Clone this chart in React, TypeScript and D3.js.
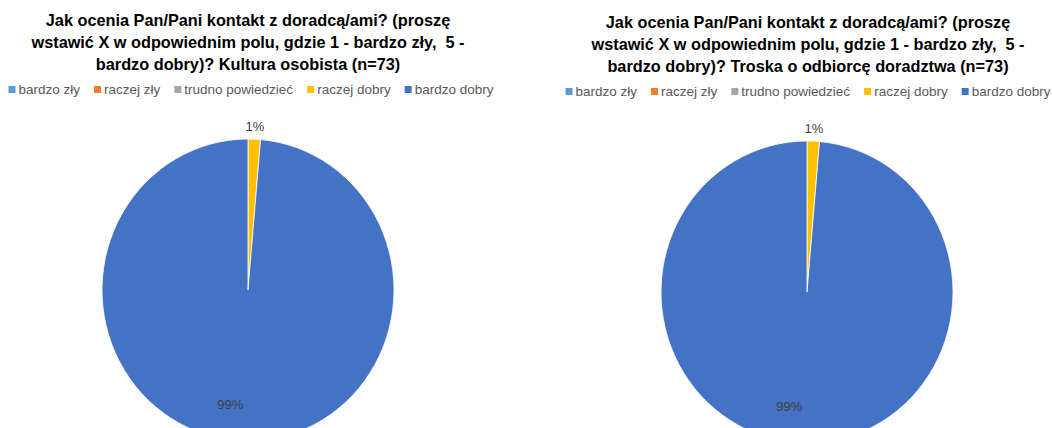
import React, { useEffect, useRef } from "react";
import * as d3 from "d3";

const categories = ["bardzo zły", "raczej zły", "trudno powiedzieć", "raczej dobry", "bardzo dobry"];
const colors = ["#5B9BD5", "#ED7D31", "#A5A5A5", "#FFC000", "#4472C4"];
const valuesKultura = [0, 0, 0, 1, 72];
const valuesTroska = [0, 0, 0, 1, 72];
const titleKultura = [
  "Jak ocenia Pan/Pani kontakt z doradcą/ami? (proszę",
  "wstawić X w odpowiednim polu, gdzie 1 - bardzo zły,  5 -",
  "bardzo dobry)? Kultura osobista (n=73)",
];
const titleTroska = [
  "Jak ocenia Pan/Pani kontakt z doradcą/ami? (proszę",
  "wstawić X w odpowiednim polu, gdzie 1 - bardzo zły,  5 -",
  "bardzo dobry)? Troska o odbiorcę doradztwa (n=73)",
];

const W = 1052;
const H = 428;
const FONT = "'Liberation Sans', Arial, sans-serif";

export default function App() {
  const ref = useRef<SVGSVGElement>(null);
  useEffect(() => {
    const svg = d3.select(ref.current);
    svg.selectAll("*").remove();
    const panels = [
      { title: titleKultura, values: valuesKultura, cx: 248, titleY: 26, legendY: 94, legendCx: 251, pieCx: 248, pieCy: 290 },
      { title: titleTroska, values: valuesTroska, cx: 808, titleY: 28, legendY: 96, legendCx: 808, pieCx: 807, pieCy: 292 },
    ];
    const r = 146;
    const sy = 151 / 146;
    panels.forEach((p) => {
      const g = svg.append("g");
      // title
      const t = g.append("text")
        .attr("text-anchor", "middle")
        .attr("font-family", FONT)
        .attr("font-weight", "bold")
        .attr("font-size", 16.3)
        .attr("fill", "#000")
        .style("white-space", "pre");
      p.title.forEach((line, i) => {
        t.append("tspan").attr("x", p.cx).attr("y", p.titleY + i * 22).text(line);
      });
      // legend
      const lg = g.append("g");
      let x = 0;
      categories.forEach((c, i) => {
        lg.append("rect").attr("x", x).attr("y", p.legendY - 8).attr("width", 7).attr("height", 7).attr("fill", colors[i]);
        const tx = lg.append("text")
          .attr("x", x + 10)
          .attr("y", p.legendY)
          .attr("font-family", FONT)
          .attr("font-size", 13.5)
          .attr("fill", "#595959")
          .text(c);
        const w = (tx.node() as SVGTextElement).getComputedTextLength();
        x += 10 + w + 14;
      });
      const totalW = x - 14;
      lg.attr("transform", `translate(${p.legendCx - totalW / 2},0)`);
      // pie
      const pie = d3.pie<number>().sort(null).value((d) => d);
      const arcs = pie(p.values);
      const arc = d3.arc<d3.PieArcDatum<number>>().innerRadius(0).outerRadius(r);
      const total = d3.sum(p.values);
      const pg = g.append("g").attr("transform", `translate(${p.pieCx},${p.pieCy})`);
      const shapes = pg.append("g").attr("transform", `scale(1,${sy})`);
      arcs.forEach((a, i) => {
        if (a.value <= 0) return;
        shapes.append("path").attr("d", arc(a) as string).attr("fill", colors[i]).attr("stroke", "#fff").attr("stroke-width", 0.8);
      });
      arcs.forEach((a, i) => {
        if (a.value <= 0) return;
        const mid = (a.startAngle + a.endAngle) / 2;
        const pct = Math.round((a.value / total) * 100) + "%";
        let lx: number, ly: number;
        if (a.endAngle - a.startAngle < 0.5) {
          lx = Math.sin(mid) * (r + 13);
          ly = -Math.cos(mid) * (r * sy + 13);
        } else {
          lx = Math.sin(mid) * r * 0.76 - 13;
          ly = -Math.cos(mid) * r * sy * 0.76;
        }
        pg.append("text")
          .attr("x", lx)
          .attr("y", ly)
          .attr("dy", "0.35em")
          .attr("text-anchor", "middle")
          .attr("font-family", FONT)
          .attr("font-size", 13)
          .attr("fill", "#404040")
          .text(pct);
      });
    });
  }, []);
  return (
    <svg
      ref={ref}
      width={W}
      height={H}
      style={{ position: "absolute", left: 0, top: 0, background: "#fff" }}
    />
  );
}
